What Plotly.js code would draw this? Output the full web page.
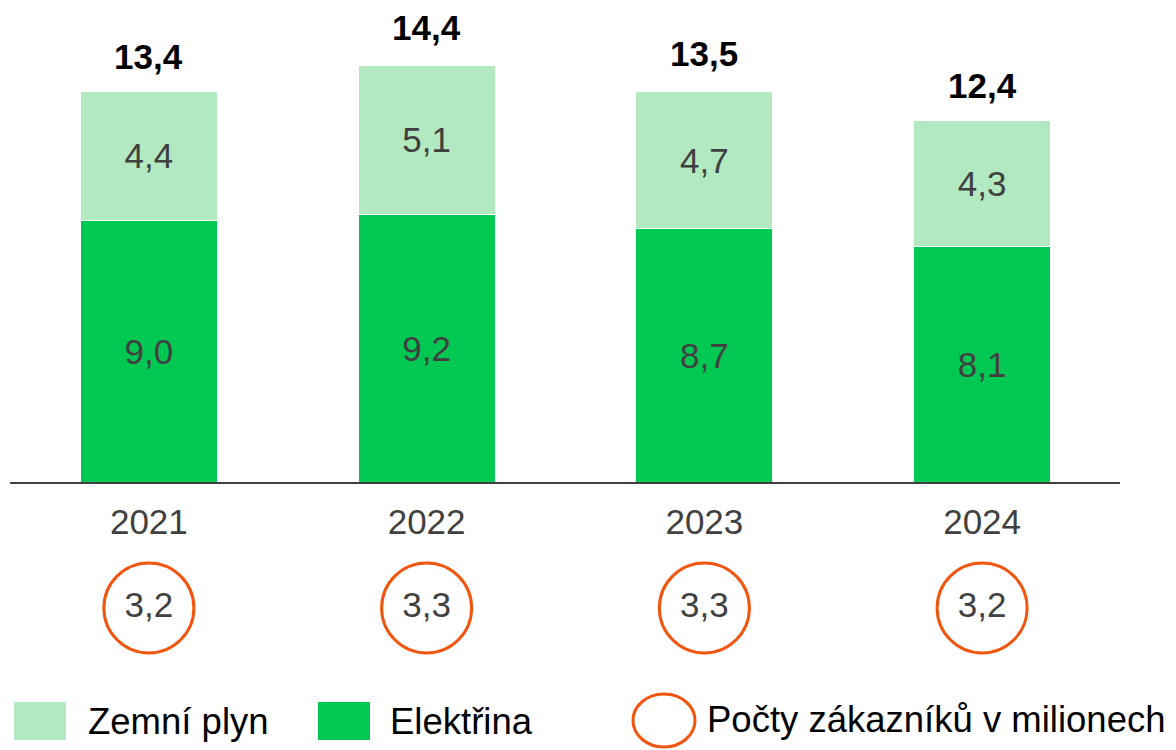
<!DOCTYPE html>
<html><head><meta charset="utf-8">
<script src="https://cdn.plot.ly/plotly-3.0.1.min.js"></script>
<style>html,body{margin:0;padding:0;background:#fff}#c{width:1176px;height:750px}</style>
</head><body><div id="c"></div>
<script>
const years = ['2021','2022','2023','2024'];
const elektrina = [9.0, 9.2, 8.7, 8.1];
const zemniPlyn = [4.4, 5.1, 4.7, 4.3];
const totals = [13.4, 14.4, 13.5, 12.4];
const zakaznici = [3.2, 3.3, 3.3, 3.2];
const seriesNames = ['Zemní plyn', 'Elektřina', 'Počty zákazníků v milionech'];

const fmt = v => v.toFixed(1).replace('.', ',');
const FONT = 'Liberation Sans, Arial, sans-serif';
const DARK = '#00c853', LIGHT = '#b3e9c1', ORANGE = '#f0560f', TXT = '#404040';
const idx = years.map((_, i) => i);

const traces = [
  {type:'bar', x: idx, y: elektrina, name: seriesNames[1], marker:{color: DARK, line:{color:'#fff', width:1}},
   text: elektrina.map(fmt), textposition:'inside', insidetextanchor:'middle', textangle:0,
   textfont:{family:FONT, size:35, color:TXT}, width:0.494, hoverinfo:'skip'},
  {type:'bar', x: idx, y: zemniPlyn, name: seriesNames[0], marker:{color: LIGHT, line:{color:'#fff', width:1}},
   text: zemniPlyn.map(fmt), textposition:'inside', insidetextanchor:'middle', textangle:0,
   textfont:{family:FONT, size:35, color:TXT}, width:0.494, hoverinfo:'skip'},
  {type:'scatter', mode:'text', x: idx, y: years.map(() => -1.45), text: years,
   textfont:{family:FONT, size:35, color:TXT}, cliponaxis:false, hoverinfo:'skip'},
  {type:'scatter', mode:'markers+text', x: idx, y: zakaznici.map(() => -4.28), text: zakaznici.map(fmt),
   marker:{symbol:'circle-open', size:90, color: ORANGE, line:{color: ORANGE, width:3}},
   textfont:{family:FONT, size:35, color:TXT}, cliponaxis:false, hoverinfo:'skip'}
];

const annotations = totals.map((t, i) => ({
  x: i, y: t, xref:'x', yref:'y', text: '<b>' + fmt(t) + '</b>', showarrow:false,
  yanchor:'middle', yshift: 35, font:{family:FONT, size:35, color:'#000'}
}));

// custom legend in paper coords (plot area spans x 10..1121, y 0..750 px)
const W = 1176, H = 750, ML = 10, MR = 55;
const px = x => (x - ML) / (W - ML - MR), py = y => 1 - y / H;
const shapes = [
  {type:'line', xref:'paper', yref:'y', x0: px(10), x1: px(1120), y0:0, y1:0, line:{color:'#404040', width:2}, layer:'above'},
  {type:'rect', xref:'paper', yref:'paper', x0: px(14), x1: px(66), y0: py(740), y1: py(702), fillcolor: LIGHT, line:{width:0}},
  {type:'rect', xref:'paper', yref:'paper', x0: px(318), x1: px(370), y0: py(740), y1: py(702), fillcolor: DARK, line:{width:0}},
  {type:'circle', xref:'paper', yref:'paper', x0: px(633), x1: px(695), y0: py(747), y1: py(694), line:{color: ORANGE, width:3}}
];
annotations.push(
  {xref:'paper', yref:'paper', x: px(86), y: py(721), xanchor:'left', yanchor:'middle', showarrow:false, text: seriesNames[0], font:{family:FONT, size:36.5, color:'#000'}},
  {xref:'paper', yref:'paper', x: px(388), y: py(721), xanchor:'left', yanchor:'middle', showarrow:false, text: seriesNames[1], font:{family:FONT, size:36.5, color:'#000'}},
  {xref:'paper', yref:'paper', x: px(705), y: py(719), xanchor:'left', yanchor:'middle', showarrow:false, text: seriesNames[2], font:{family:FONT, size:36.5, color:'#000'}}
);

const pxPerUnit = 29.2, base = 483;
const layout = {
  width: W, height: H, margin:{l:ML, r:MR, t:0, b:0}, paper_bgcolor:'#fff', plot_bgcolor:'#fff',
  barmode:'stack', showlegend:false,
  xaxis:{range:[-0.5, 3.5], visible:false, fixedrange:true},
  yaxis:{range:[-(H - base)/pxPerUnit, base/pxPerUnit], visible:false, fixedrange:true},
  annotations, shapes
};
Plotly.newPlot('c', traces, layout, {displayModeBar:false, staticPlot:true});
</script></body></html>
